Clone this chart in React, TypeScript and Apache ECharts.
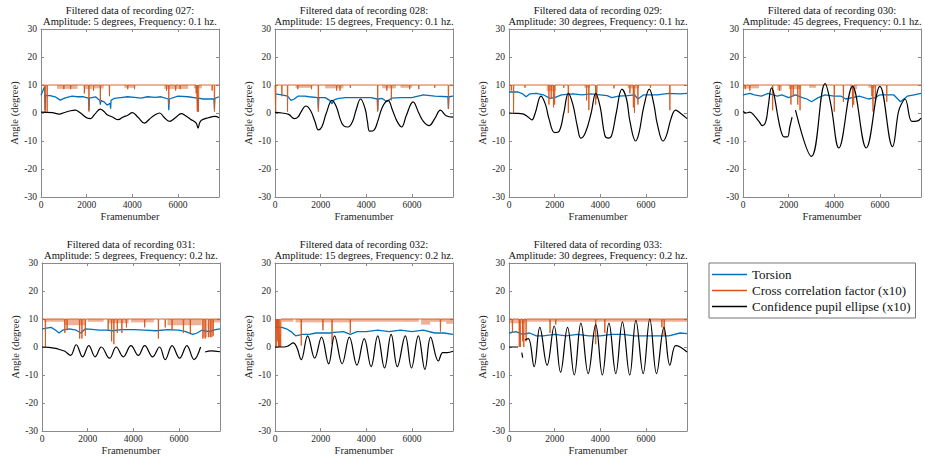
import React, { useEffect, useRef } from "react";
import * as echarts from "echarts";

// ---------- axis ticks ----------
const FRAME_MAX = 7800;
const X_TICKS = [0, 2000, 4000, 6000];
const Y_TICKS = [-30, -20, -10, 0, 10, 20, 30];

// ---------- plot meta ----------
const recordings = ["027", "028", "029", "030", "031", "032", "033"];
const amplitudes = [5, 15, 30, 45, 5, 15, 30];
const frequencies = [0.1, 0.1, 0.1, 0.1, 0.2, 0.2, 0.2];
const seriesNames = ["Torsion", "Cross correlation factor (x10)", "Confidence pupil ellipse (x10)"];

// ---------- recording 027 ----------
const torsion027 = [[0,6.3],[160,9.5],[180,1.0],[200,6.3],[400,6.2],[620,5.8],[840,4.6],[1060,5.4],[1360,6.0],[1600,5.8],[1870,5.8],[2080,5.3],[2100,1.0],[2120,5.3],[2390,5.8],[2580,4.5],[2600,3.0],[2620,4.5],[2760,4.0],[2900,2.8],[3030,3.5],[3050,1.5],[3070,4.5],[3200,5.2],[3500,5.5],[3790,5.8],[4100,5.6],[4380,5.3],[4670,5.8],[5000,5.6],[5260,5.8],[5580,5.0],[5600,1.0],[5620,5.0],[6000,6.0],[6440,5.8],[6860,5.3],[6880,0.5],[6900,5.3],[7100,5.0],[7330,5.0],[7580,5.0],[7600,1.5],[7620,5.2],[7800,5.8]];
const corrDips027 = [[180,0.3],[270,0.5],[1000,8.5],[1300,8.5],[1900,7],[2100,0.5],[2300,8],[2600,4],[3000,6],[3800,8.5],[4100,8.5],[5500,8],[5600,3],[5900,8],[6100,8.5],[6800,7],[6850,0.5],[6900,0.5],[7500,8],[7600,0.5]];
const corrFuzz027 = [[700,1600,8.6],[1900,2250,8.6],[2300,2750,8.8],[3650,4100,9],[5400,6450,8.6],[6700,7050,8.8]];
const confidence027 = [[0,0.3],[500,0.1],[800,-0.4],[1000,0.1],[1300,0.8],[1500,1.0],[1700,0.2],[2000,-1.7],[2170,-2.0],[2350,-0.5],[2600,1.4],[2750,0.6],[2900,-0.6],[3150,-1.5],[3380,-2.4],[3600,-1.4],[3800,-0.8],[4000,0.1],[4250,-1.5],[4530,-3.6],[4750,-2.2],[4970,-0.8],[5200,0],[5400,-1.6],[5630,-3.0],[5900,-1.6],[6150,-0.2],[6320,-0.9],[6550,-2.2],[6800,-3.6],[6880,-5.4],[6950,-3.6],[7030,-2.6],[7330,-1.7],[7620,-1.2],[7800,-1.7]];

// ---------- recording 028 ----------
const torsion028 = [[0,6.8],[300,6.5],[550,6],[700,4.5],[850,5],[1000,6],[1300,6],[1500,5.8],[1880,5.5],[1900,1.5],[1920,5.5],[2200,5.5],[2400,4.5],[2500,3.3],[2600,4.8],[2800,5.2],[3100,5.5],[3500,5.5],[3800,5.5],[4200,5.5],[4480,5],[4500,1],[4520,5],[4700,5.2],[4900,4],[5100,5.3],[5500,5.5],[6000,5.5],[6500,6.5],[7000,6],[7580,5.8],[7600,1.5],[7620,5.8],[7800,6]];
const corrDips028 = [[30,0],[300,6],[550,0.5],[1000,8.5],[1600,8.5],[1900,0.5],[2700,8],[2850,8],[3300,9],[4500,0.5],[4900,8],[5100,4.5],[5900,8.5],[6300,8.5],[7000,9],[7600,1.5]];
const corrFuzz028 = [[900,1600,9],[2200,3000,8.8],[4700,5300,8.8],[5500,6000,9]];
const confidence028 = [[0,0.2],[300,0],[600,-0.5],[850,-2],[1000,-1.5],[1150,0.5],[1350,2.5],[1550,1],[1750,-3],[1900,-6],[2050,-5],[2250,0],[2500,4.5],[2700,2],[2850,-2],[3000,-4.5],[3200,-5],[3400,-3],[3550,1],[3750,5],[3950,1.5],[4050,-3],[4150,-6.5],[4350,-6],[4500,-3],[4700,2],[4950,4.5],[5150,1],[5350,-3],[5550,-5],[5750,-1],[6050,4],[6300,0],[6500,-3],[6750,-4.5],[7000,-2],[7250,1],[7500,-1],[7800,-1.5]];

// ---------- recording 029 ----------
const torsion029 = [[0,7.5],[400,7.5],[600,6.8],[750,5.8],[900,6.8],[1200,7],[1500,6.5],[1800,5.2],[2000,5.5],[2300,6.5],[2800,6.8],[3200,6.5],[3600,6.8],[4000,6.5],[4300,6.2],[4500,5.5],[4800,6],[5200,6.2],[5500,6.5],[5650,5],[5900,6.5],[6500,6.5],[7000,7],[7500,6.8],[7800,7]];
const corrDips029 = [[100,8],[200,0],[700,9],[1750,3],[1850,5],[1950,2],[2000,3],[2400,9],[2600,0],[3400,4.5],[3500,1],[3800,3],[3850,5],[4600,8.8],[5300,7],[5450,2],[5500,0],[5650,3],[6200,9],[7050,1]];
const corrFuzz029 = [[1650,2050,7.8],[3300,3550,9],[5200,5700,8.8]];
const confidence029 = [[0,0],[300,-0.1],[600,-0.3],[850,-1.5],[1000,-2.5],[1150,0],[1400,6],[1600,3],[1750,-2],[2000,-7],[2200,-6.5],[2400,0],[2600,7],[2800,3],[3000,-5],[3150,-9],[3350,-7],[3600,0],[3800,7],[4000,2],[4200,-8],[4350,-9],[4500,-8],[4700,0],[4950,8.5],[5150,5],[5300,-3],[5550,-10],[5700,-7],[5900,2],[6150,8.5],[6350,3],[6500,-4],[6750,-10],[6900,-8],[7100,-2],[7300,1],[7500,0],[7800,-2]];

// ---------- recording 030 ----------
const torsion030 = [[0,6.5],[300,7],[500,6.5],[800,6],[1100,7],[1500,6],[1700,6.5],[2000,5.5],[2300,6.5],[2600,5.5],[2800,5],[3000,4],[3300,5.5],[3600,6.5],[4000,6],[4300,6],[4500,5],[4800,5.5],[5100,6],[5500,5],[5800,5.5],[6000,6.5],[6600,6.5],[6900,4],[7200,6],[7500,6.5],[7800,7]];
const corrDips030 = [[100,8.5],[300,8],[1300,1],[1600,8],[2100,3],[2200,6],[2400,3],[2500,1],[4000,0.5],[4400,4],[4800,2],[4850,3],[5650,6],[5700,0.5],[5800,4],[6300,4]];
const corrFuzz030 = [[0,700,8.8],[1500,1700,8],[2000,2550,8.5],[2900,3200,9],[4700,5000,8.5],[5500,5800,9]];
const confidence030 = [[0,0.5],[150,0],[300,0.3],[500,-1],[700,-3],[850,-4.5],[1000,-3],[1100,2],[1250,9],[1350,7],[1500,0],[1650,-6],[1800,-8.5],[1950,-8.5],[2050,-5],[2150,-1.5],[2200,"-"],[2300,1],[3000,-15.5],[3600,10.5],[3850,3],[4200,-12.5],[4800,9.5],[5400,-12.5],[6000,9.5],[6550,-12],[6800,0],[6900,2.5],[7100,5],[7400,-3],[7650,-2.8],[7800,-1.8]];

// ---------- recording 031 ----------
const torsion031 = [[0,6.5],[400,7],[600,6],[750,5],[900,6],[1200,6.5],[1500,6],[1700,5],[1900,6.5],[2200,6.3],[2500,6],[2800,6],[3100,5.8],[3500,6.2],[4000,6.2],[4500,6],[5000,5.8],[5500,6.2],[6000,6],[6300,5.5],[6600,4.5],[6800,5],[7000,6],[7300,5.5],[7600,6.2],[7800,6.5]];
const corrDips031 = [[150,0],[1000,5],[1100,6],[1650,3],[1750,3],[1900,4],[2900,6],[3050,2],[3150,1],[3300,5],[3500,5],[3700,7],[4500,7],[5100,3],[5400,7],[5700,6],[6200,5],[6500,5],[7050,3],[7150,3],[7300,3.5],[7400,3.5],[7500,4]];
const corrFuzz031 = [[100,1000,9],[1000,1900,7.8],[2000,2700,9],[2900,3800,8.5],[3900,4900,8.8],[5500,7000,7.8],[7050,7250,3.5],[7300,7500,3.5],[7500,7800,8.8]];
const confidence031 = [[0,0],[300,-0.1],[600,-0.5],[800,-1],[1000,-1.5],[1250,-3],[1500,0.8],[1780,-3.5],[2050,0.5],[2330,-3.5],[2600,0],[2960,-4],[3250,0],[3560,-3.5],[3900,0.5],[4220,-3],[4500,0.5],[4850,-3.5],[5150,0],[5400,-4.5],[5700,0.5],[6030,-4],[6350,0.5],[6660,-4.5],[6950,0],[7000,"-"],[7150,-1.8],[7400,-1.4],[7800,-1.7]];

// ---------- recording 032 ----------
const torsion032 = [[0,7],[300,7],[500,6.5],[700,5.5],[900,4],[1200,4.5],[1500,4.5],[1800,5],[2100,5],[2400,5],[2700,5.3],[3000,5.5],[3300,4.5],[3600,5.5],[4000,5.5],[4500,6],[5000,5.5],[5500,6],[6000,5.5],[6500,6],[7000,5],[7400,5],[7800,4.5]];
const corrDips032 = [[50,0],[100,2],[150,0],[200,0],[250,0],[1150,0.5],[2100,6],[2500,1],[3300,5],[7250,5.5]];
const corrFuzz032 = [[300,800,9],[900,2000,8.8],[2000,3300,8.8],[3300,5500,9],[5500,6300,9],[6400,6800,8],[6800,7500,9],[7500,7800,8.3]];
const confidence032 = [[0,0],[400,0],[600,0.5],[800,1.5],[950,0],[1150,-4.5],[1430,4],[1740,-4],[2040,3.5],[2350,-6],[2610,4],[2940,-6],[3260,3.5],[3590,-6.5],[3910,3],[4210,-7],[4500,4],[4800,-7.5],[5090,4.5],[5360,-7],[5710,4],[5980,-7.5],[6280,4],[6570,-8],[6820,3.5],[7160,-5],[7350,-2],[7550,-2],[7800,-1.5]];

// ---------- recording 033 ----------
const torsion033 = [[0,5],[300,5.5],[600,4.5],[900,5],[1200,4],[1500,4],[2000,4.5],[2500,4],[3000,4.5],[3500,4],[4000,4],[4500,4.5],[5000,4.5],[5500,4],[6000,4],[6500,4],[7000,4],[7500,5],[7800,4.8]];
const corrDips033 = [[150,5],[450,0],[500,0],[600,2],[650,0],[750,2],[1800,5],[2050,8],[3800,1],[4200,5],[6700,7],[6800,4]];
const corrFuzz033 = [[0,700,8.5],[700,7800,9]];
const confidence033 = [[0,0],[400,0],[420,"-"],[560,-2],[600,-3.8],[620,"-"],[700,2.5],[850,3],[1100,-7],[1350,7],[1670,-6.5],[1980,7.5],[2260,-9],[2565,7],[2860,-10],[3150,8.5],[3470,-9.5],[3800,8],[4090,-10],[4380,8.5],[4680,-9.5],[4970,9],[5290,-10],[5560,9.5],[5880,-9.5],[6170,10],[6465,-9.5],[6790,7],[7050,-6.5],[7300,0.5],[7500,0],[7800,-1.8]];

const torsionAll = [torsion027, torsion028, torsion029, torsion030, torsion031, torsion032, torsion033];
const corrDipsAll = [corrDips027, corrDips028, corrDips029, corrDips030, corrDips031, corrDips032, corrDips033];
const corrFuzzAll = [corrFuzz027, corrFuzz028, corrFuzz029, corrFuzz030, corrFuzz031, corrFuzz032, corrFuzz033];
const confidenceAll = [confidence027, confidence028, confidence029, confidence030, confidence031, confidence032, confidence033];

// ---------- layout ----------
const LEFTS = [41, 275, 509, 743, 42, 275, 509];
const TOPS = [29, 29, 29, 29, 263, 263, 263];
const GW = 178;
const GH = 168;
const SERIF = "serif";
const COLORS = ["#0072BD", "#D95319", "#000000"];
const AXIS_COLOR = "#8a8a8a";

function corrLine(dips: number[][]) {
  const pts: any[] = [[0, 10]];
  dips.forEach(([f, v]) => {
    pts.push([f - 12, 10], [f, v], [f + 12, 10]);
  });
  pts.push([FRAME_MAX, 10]);
  return pts;
}

function buildOption() {
  const grid: any[] = [];
  const xAxis: any[] = [];
  const yAxis: any[] = [];
  const series: any[] = [];
  const graphic: any[] = [];

  recordings.forEach((rec, i) => {
    grid.push({ left: LEFTS[i], top: TOPS[i], width: GW, height: GH, containLabel: false });
    const lineStyle = { color: AXIS_COLOR, width: 1 };
    const tick = { show: true, inside: true, length: 3, lineStyle: { color: AXIS_COLOR } };
    xAxis.push({
      gridIndex: i, type: "value", min: X_TICKS[0], max: FRAME_MAX, interval: 2000,
      position: "bottom",
      axisLine: { show: true, onZero: false, lineStyle },
      axisTick: tick,
      splitLine: { show: false },
      axisLabel: {
        margin: 3, fontFamily: SERIF, fontSize: 9.5, color: "#262626",
        formatter: (v: number) => (X_TICKS.includes(v) ? String(v) : ""),
      },
      name: "Framenumber", nameLocation: "middle", nameGap: 14,
      nameTextStyle: { fontFamily: SERIF, fontSize: 10.5, color: "#262626" },
    });
    xAxis.push({
      gridIndex: i, type: "value", min: X_TICKS[0], max: FRAME_MAX, interval: 2000,
      position: "top",
      axisLine: { show: true, onZero: false, lineStyle },
      axisTick: tick, axisLabel: { show: false }, splitLine: { show: false },
    });
    yAxis.push({
      gridIndex: i, type: "value", min: Y_TICKS[0], max: Y_TICKS[Y_TICKS.length - 1], interval: 10,
      position: "left",
      axisLine: { show: true, onZero: false, lineStyle },
      axisTick: tick, splitLine: { show: false },
      axisLabel: { margin: 4, fontFamily: SERIF, fontSize: 9.5, color: "#262626" },
      name: "Angle (degree)", nameLocation: "middle", nameGap: 21, nameRotate: 90,
      nameTextStyle: { fontFamily: SERIF, fontSize: 10.5, color: "#262626" },
    });
    yAxis.push({
      gridIndex: i, type: "value", min: Y_TICKS[0], max: Y_TICKS[Y_TICKS.length - 1], interval: 10,
      position: "right",
      axisLine: { show: true, onZero: false, lineStyle },
      axisTick: tick, axisLabel: { show: false }, splitLine: { show: false },
    });

    const xi = 2 * i;
    series.push({
      name: seriesNames[0], type: "line", xAxisIndex: xi, yAxisIndex: xi,
      data: torsionAll[i], symbol: "none", showSymbol: false,
      lineStyle: { color: COLORS[0], width: 1.3 }, itemStyle: { color: COLORS[0] },
      z: 2,
    });
    series.push({
      name: seriesNames[1], type: "line", xAxisIndex: xi, yAxisIndex: xi,
      data: corrLine(corrDipsAll[i]), symbol: "none", showSymbol: false,
      lineStyle: { color: COLORS[1], width: 0.9 }, itemStyle: { color: COLORS[1] },
      markArea: {
        silent: true,
        itemStyle: { color: "rgba(217,83,25,0.45)" },
        data: corrFuzzAll[i].map(([s, e, d]) => [{ xAxis: s, yAxis: d }, { xAxis: e, yAxis: 10 }]),
      },
      z: 3,
    });
    series.push({
      name: seriesNames[2], type: "line", xAxisIndex: xi, yAxisIndex: xi,
      data: confidenceAll[i], symbol: "none", showSymbol: false, smooth: 0.4,
      lineStyle: { color: COLORS[2], width: 1.2 }, itemStyle: { color: COLORS[2] },
      z: 4,
    });

    const cx = LEFTS[i] + GW / 2;
    const lines = [
      `Filtered data of recording ${rec}:`,
      `Amplitude: ${amplitudes[i]} degrees, Frequency: ${frequencies[i]} hz.`,
    ];
    lines.forEach((t, k) => {
      graphic.push({
        type: "text", x: cx, y: TOPS[i] - 19 + k * 11,
        style: {
          text: t, fontFamily: SERIF, fontSize: 10.5, fill: "#111",
          align: "center", verticalAlign: "middle", textAlign: "center", textVerticalAlign: "middle",
        },
      });
    });
  });

  return {
    animation: false,
    backgroundColor: "#ffffff",
    textStyle: { fontFamily: SERIF },
    grid, xAxis, yAxis, series, graphic,
    legend: {
      data: seriesNames,
      orient: "vertical",
      left: 709, top: 263,
      icon: "rect", itemWidth: 35, itemHeight: 1.5, itemGap: 3,
      padding: [5, 5, 5, 3],
      borderColor: "#777", borderWidth: 1,
      textStyle: { fontFamily: SERIF, fontSize: 13, color: "#111" },
      selectedMode: false,
    },
  };
}

export default function App() {
  const ref = useRef<HTMLDivElement>(null);
  useEffect(() => {
    if (!ref.current) return;
    const chart = echarts.init(ref.current, undefined, { renderer: "svg" });
    chart.setOption(buildOption() as any);
    return () => chart.dispose();
  }, []);
  return (
    <div
      ref={ref}
      style={{ position: "absolute", left: 0, top: 0, width: 925, height: 463, background: "#fff" }}
    />
  );
}
